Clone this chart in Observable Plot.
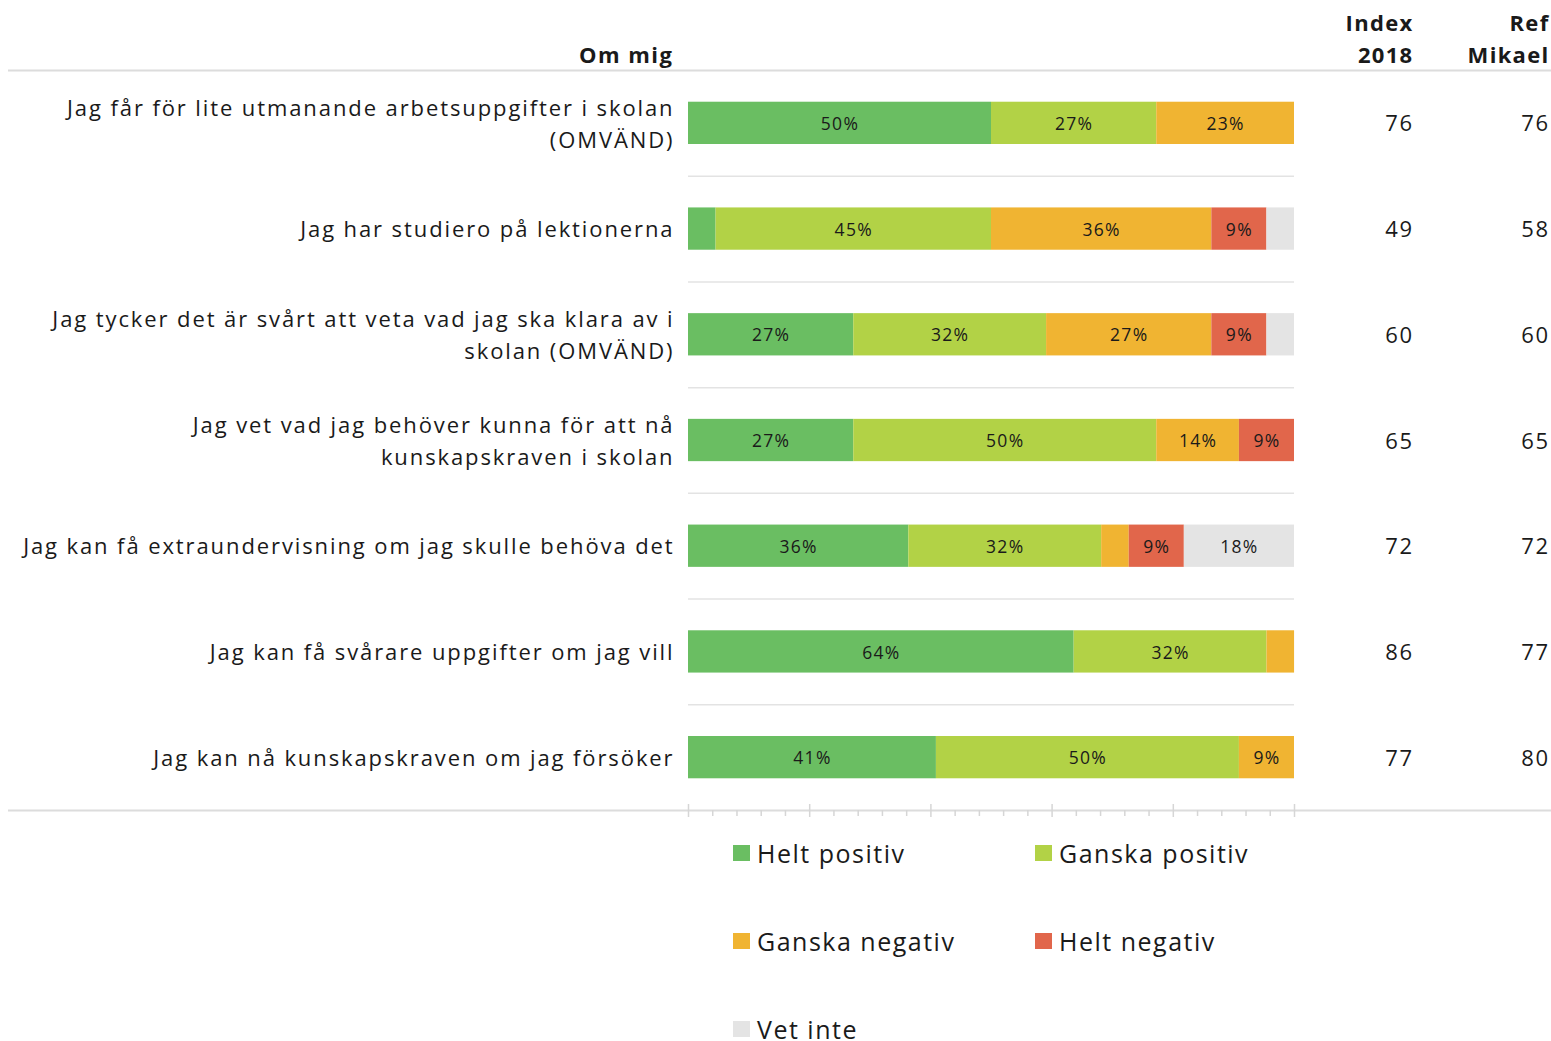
<!DOCTYPE html>
<html>
<head>
<meta charset="utf-8">
<script src="https://cdn.jsdelivr.net/npm/d3@7"></script>
<script src="https://cdn.jsdelivr.net/npm/@observablehq/plot@0.6"></script>
<style>
  html, body { margin: 0; padding: 0; background: #fff; overflow: hidden; }
  #chart svg { display: block; }
  #legend {
    margin-left: 733px;
    margin-top: -3px;
    display: grid;
    grid-template-columns: 302px 302px;
    grid-auto-rows: 48px;
    row-gap: 40px;
    font-family: "Open Sans", sans-serif;
    font-size: 25px;
    line-height: 30px;
    color: #1a1a1a;
    letter-spacing: 1.5px;
  }
  .item { display: flex; align-items: center; }
  .sw { width: 17px; height: 16px; margin-right: 7px; flex: none; }
</style>
</head>
<body>
<div id="chart"></div>
<div id="legend"></div>
<script>
// ---- data ----
const questions = [
  "Jag får för lite utmanande arbetsuppgifter i skolan\n(OMVÄND)",
  "Jag har studiero på lektionerna",
  "Jag tycker det är svårt att veta vad jag ska klara av i\nskolan (OMVÄND)",
  "Jag vet vad jag behöver kunna för att nå\nkunskapskraven i skolan",
  "Jag kan få extraundervisning om jag skulle behöva det",
  "Jag kan få svårare uppgifter om jag vill",
  "Jag kan nå kunskapskraven om jag försöker"
];
const categories = ["Helt positiv", "Ganska positiv", "Ganska negativ", "Helt negativ", "Vet inte"];
const colors = ["#6abe62", "#b2d246", "#f0b432", "#e1664b", "#e4e4e4"];

const heltPositiv   = [50,    4.55,  27.27, 27.27, 36.36, 63.64, 40.91];
const ganskaPositiv = [27.27, 45.45, 31.82, 50,    31.82, 31.82, 50];
const ganskaNegativ = [22.73, 36.36, 27.27, 13.64, 4.55,  4.55,  9.09];
const heltNegativ   = [0,     9.09,  9.09,  9.09,  9.09,  0,     0];
const vetInte       = [0,     4.55,  4.55,  0,     18.18, 0,     0];

const index2018  = [76, 49, 60, 65, 72, 86, 77];
const refMikael  = [76, 58, 60, 65, 72, 77, 80];

const headerLeft = "Om mig";
const headerCols = ["Index\n2018", "Ref\nMikael"];
const majorTicks = [0, 20, 40, 60, 80, 100];
const minorTicks = [4, 8, 12, 16, 24, 28, 32, 36, 44, 48, 52, 56, 64, 68, 72, 76, 84, 88, 92, 96];

// ---- build table ----
const series = [heltPositiv, ganskaPositiv, ganskaNegativ, heltNegativ, vetInte];
const table = [];
questions.forEach((q, i) => {
  categories.forEach((c, j) => table.push({q, cat: c, v: series[j][i]}));
});

const W = 1551, H = 832, mT = 70, mB = 22, mL = 688, mR = 257;
const step = (H - mT - mB) / questions.length;
const labelColor = "#1a1a1a";

const chart = Plot.plot({
  width: W,
  height: H,
  marginTop: mT,
  marginBottom: mB,
  marginLeft: mL,
  marginRight: mR,
  style: {fontFamily: "'Open Sans', sans-serif", fontSize: "22px", color: labelColor, background: "#fff", overflow: "visible"},
  x: {domain: [0, 100], axis: null},
  y: {domain: questions, axis: null, paddingInner: 0.6, paddingOuter: 0.3, round: false},
  color: {domain: categories, range: colors},
  marks: [
    // full-width top / bottom lines
    Plot.ruleY([questions[0]], {dy: -step / 2, insetLeft: -680, insetRight: -257, stroke: "#dcdcdc", strokeWidth: 2}),
    Plot.ruleY([questions[questions.length - 1]], {dy: step / 2, insetLeft: -680, insetRight: -257, stroke: "#dcdcdc", strokeWidth: 2}),
    // separators between rows
    Plot.ruleY(questions.slice(1), {dy: -step / 2, stroke: "#e3e3e3", strokeWidth: 1.5}),
    // tick marks
    Plot.ruleX(majorTicks, {x: d => d, insetTop: H - mT - mB - 6, insetBottom: -7, stroke: "#d6d6d6", strokeWidth: 1.5}),
    Plot.ruleX(minorTicks, {x: d => d, insetTop: H - mT - mB, insetBottom: -6, stroke: "#d6d6d6", strokeWidth: 1.5}),
    // bars
    Plot.barX(table, Plot.stackX({y: "q", x: "v", fill: "cat", z: "cat", order: categories})),
    // 0: bar labels
    Plot.text(table, Plot.stackX({
      y: "q", x: "v", z: "cat", order: categories,
      text: d => d.v >= 8 ? Math.round(d.v) + "%" : "",
      fill: labelColor, fontSize: 17.5, dy: 1
    })),
    // 1: row labels
    Plot.text(questions, {y: d => d, text: d => d, frameAnchor: "left", dx: -14, dy: -2, textAnchor: "end",
      lineHeight: 1.45, fontSize: 22, fill: labelColor}),
    // 2, 3: right columns
    Plot.text(questions, {y: d => d, text: (d, i) => String(index2018[i]), frameAnchor: "right", dx: 119, dy: 1, textAnchor: "end", fontSize: 22, fill: labelColor}),
    Plot.text(questions, {y: d => d, text: (d, i) => String(refMikael[i]), frameAnchor: "right", dx: 255, dy: 1, textAnchor: "end", fontSize: 22, fill: labelColor}),
    // 4, 5, 6: headers
    Plot.text([headerLeft], {text: d => d, frameAnchor: "top-left", lineAnchor: "middle", dx: -15, dy: -15, textAnchor: "end", fontWeight: "bold", fontSize: 22, fill: labelColor}),
    Plot.text([headerCols[0]], {text: d => d, frameAnchor: "top-right", lineAnchor: "middle", dx: 119, dy: -34, textAnchor: "end", fontWeight: "bold", fontSize: 22, lineHeight: 1.45, fill: labelColor}),
    Plot.text([headerCols[1]], {text: d => d, frameAnchor: "top-right", lineAnchor: "middle", dx: 255, dy: -34, textAnchor: "end", fontWeight: "bold", fontSize: 22, lineHeight: 1.45, fill: labelColor})
  ]
});
document.getElementById("chart").appendChild(chart);

// letter spacing per text mark (in mark order)
const spacing = ["1.3px", "1.9px", "1.5px", "1.5px", "1.5px", "1.3px", "1.3px"];
d3.select(chart).selectAll('g[aria-label="text"]').each(function(_, k) {
  d3.select(this).style("letter-spacing", spacing[k] || "0px");
});

// legend
const legend = d3.select("#legend");
categories.forEach((c, j) => {
  const it = legend.append("div").attr("class", "item");
  it.append("div").attr("class", "sw").style("background", colors[j]);
  it.append("span").text(c);
});
</script>
</body>
</html>
